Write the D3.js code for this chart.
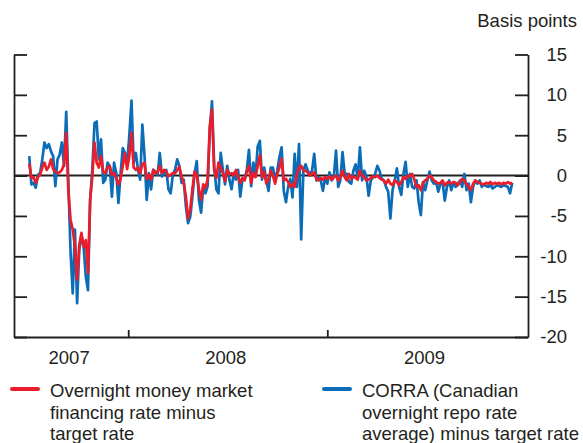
<!DOCTYPE html>
<html>
<head>
<meta charset="utf-8">
<title>Overnight rates minus target rate</title>
<script src="https://d3js.org/d3.v7.min.js"></script>
<style>
  body { margin: 0; background: #fff; }
  svg { display: block; font-family: "Liberation Sans", Arial, sans-serif; }
</style>
</head>
<body>
<div id="chart"></div>
<script>
// observations every 4 days starting here
var startDate = "2007-07-03";
var stepDays = 4;

// CORRA minus target rate (basis points)
var corra = [
  2.4,-1.1,-0.9,-1.5,0.1,0.3,2.0,4.1,3.4,3.9,3.0,2.4,-1.3,2.0,2.6,4.1,1.2,7.9,-1.0,-9.5,
  -14.6,-6.7,-15.8,-9.2,-7.5,-8.8,-12.5,-14.2,-3.0,0.7,6.5,6.7,2.0,4.5,-0.9,-0.5,1.6,1.2,-2.6,1.6,
  0.3,-3.4,0.3,3.4,2.8,1.6,4.9,9.3,1.6,2.8,0.7,-0.5,6.3,2.4,-3.0,0.3,-1.7,0.7,0.5,0.1,
  2.8,-0.1,0.3,0.7,-1.7,-2.2,0.1,0.7,2.0,1.2,-0.9,-0.5,-3.8,-5.9,-5.1,-2.6,0.3,1.8,-3.0,-4.6,
  -1.3,-2.2,-1.3,5.7,9.2,1.2,-1.7,-2.2,2.8,0.7,-1.1,1.2,-0.5,-1.7,0.3,-0.5,0.7,-2.6,-0.5,-0.5,
  0.7,3.2,-1.3,1.6,-0.1,3.6,4.3,-0.5,1.0,-0.6,-1.9,1.0,1.0,-0.6,0.6,2.3,3.5,-1.9,-3.3,-1.4,
  -0.4,-2.7,2.7,-1.4,3.9,-7.9,0.6,1.4,0.6,0.2,0.6,2.7,-0.6,-0.2,-0.6,-1.9,-0.2,-1.0,0.4,-0.6,
  -0.2,3.1,-1.4,-0.6,2.9,0.2,0.2,-0.8,-1.0,0.6,1.4,-0.4,3.5,-0.6,0.6,-0.2,-2.5,-0.6,-0.2,0.2,
  1.2,0.6,-0.4,-0.6,-1.4,-2.0,-5.3,-1.8,-0.6,0.9,-1.4,-2.4,0.2,1.7,-1.4,0.2,-1.4,-1.6,-0.6,-3.3,
  -4.9,-0.8,-1.8,-0.6,0.5,-0.6,-1.0,-0.8,-2.0,-1.0,-0.8,-3.1,-1.4,-0.6,-1.8,-0.8,-1.4,-1.0,-0.6,-1.4,
  0.2,-1.8,-1.0,-3.3,-1.4,-0.6,-1.0,-0.6,-1.4,-1.1,-1.3,-1.4,-1.2,-1.6,-1.4,-1.2,-1.3,-1.4,-1.2,-1.3,
  -1.4,-2.2,-0.9
];

// overnight money market financing rate minus target rate (basis points)
var overnight = [
  1.5,-0.3,-0.2,-0.9,-0.2,0.1,1.0,1.6,0.7,1.1,2.0,0.8,0.5,0.3,0.4,0.7,1.4,5.3,-2.0,-5.5,
  -6.7,-8.8,-12.9,-8.6,-7.1,-8.8,-8.0,-12.1,-3.0,-0.1,4.1,1.6,1.0,2.4,0.5,0.3,1.0,1.2,0.1,0.3,
  -0.3,-1.1,-0.4,1.2,2.8,0.8,2.4,5.3,1.0,0.7,1.0,0.3,1.4,1.6,-0.4,0.1,-0.5,0.7,0.3,0.4,
  1.2,0.3,0.7,0.5,-0.1,0.1,0.3,0.3,0.7,1.1,-0.1,-0.9,-2.6,-5.3,-4.2,-1.7,0.5,0.1,-1.7,-3.0,
  -1.1,-1.5,-0.5,6.1,8.2,0.7,-0.3,1.6,1.0,0.3,-0.7,0.7,0.2,0.3,0.0,0.7,-0.2,-0.9,-0.3,-0.6,
  0.5,1.2,-0.9,0.3,-0.2,1.2,2.5,-0.2,0.4,-1.0,-0.4,0.6,0.0,-1.0,0.2,1.0,2.1,-0.6,-0.4,-0.8,
  -1.4,-1.0,-1.4,0.2,1.0,1.2,0.6,0.6,0.4,0.0,0.2,0.4,-0.4,-0.6,-0.3,-0.5,-0.2,-0.4,-0.1,-0.5,
  -0.2,0.0,-0.6,-0.2,0.6,-0.2,-0.6,0.2,-0.4,-0.1,-0.3,-0.5,0.6,0.0,-0.2,-0.6,-0.5,-0.3,-0.1,-0.2,
  0.0,-0.3,-0.5,-0.6,-1.0,-0.5,-1.0,-1.2,-0.6,-0.8,-1.2,-0.8,-0.2,-0.4,0.0,-0.1,0.2,-0.5,-1.4,-1.2,
  -1.8,-0.9,-0.6,-0.4,0.0,-0.2,-0.6,-0.8,-1.0,-0.9,-0.6,-1.2,-0.9,-0.8,-1.0,-0.8,-0.9,-1.2,-0.8,-0.4,
  -0.6,-1.0,-1.4,-1.8,-1.0,-0.6,-0.8,-0.9,-1.0,-1.1,-0.9,-1.0,-0.8,-1.1,-0.9,-1.0,-0.9,-1.1,-0.9,-1.0,
  -0.8,-1.0,-0.9
];

var yTicks = [15, 10, 5, 0, -5, -10, -15, -20];
var years = ["2007", "2008", "2009"];
var legendRed = ["Overnight money market", "financing rate minus", "target rate"];
var legendBlue = ["CORRA (Canadian", "overnight repo rate", "average) minus target rate"];

var red = "#ec1c2a", blue = "#0b6db7", ink = "#231f20";
var fontSize = 18.5;

var W = 583, H = 443;
var pLeft = 14, pRight = 528, pTop = 54.5, pBottom = 337;

var parse = d3.timeParse("%Y-%m-%d");
var t0 = parse(startDate);
var dates = corra.map(function(d, i) { return d3.timeDay.offset(t0, i * stepDays); });

var x = d3.scaleTime()
  .domain([parse("2007-06-05"), parse("2010-01-05")])
  .range([pLeft, pRight]);

var y = d3.scaleLinear()
  .domain([-20, 15])
  .range([pBottom, pTop]);

var svg = d3.select("#chart").append("svg")
  .attr("width", W)
  .attr("height", H);

// zero line
svg.append("line")
  .attr("x1", pLeft).attr("x2", pRight)
  .attr("y1", y(0)).attr("y2", y(0))
  .attr("stroke", ink).attr("stroke-width", 2);

var line = function(vals) {
  return d3.line()
    .x(function(d, i) { return x(dates[i]); })
    .y(function(d) { return y(d); })(vals);
};

svg.append("path")
  .attr("d", line(corra))
  .attr("fill", "none").attr("stroke", blue)
  .attr("stroke-width", 2.7).attr("stroke-linejoin", "round");

svg.append("path")
  .attr("d", line(overnight))
  .attr("fill", "none").attr("stroke", red)
  .attr("stroke-width", 2.7).attr("stroke-linejoin", "round");

// left axis, ticks inward
var gl = svg.append("g")
  .attr("transform", "translate(" + pLeft + ",0)")
  .call(d3.axisRight(y).tickValues(yTicks).tickSize(13).tickSizeOuter(0).tickFormat(""));

// right axis, ticks inward, labels right-aligned (plain hyphen minus)
var gr = svg.append("g")
  .attr("transform", "translate(" + pRight + ",0)")
  .call(d3.axisRight(y).tickValues(yTicks).tickSize(-13).tickSizeOuter(0)
    .tickFormat(function(d) { return String(d); }));
gr.selectAll("text")
  .attr("x", 39)
  .attr("text-anchor", "end")
  .attr("font-size", fontSize)
  .attr("font-family", "Liberation Sans, Arial, sans-serif")
  .attr("fill", ink);

// bottom axis, year boundaries
var gb = svg.append("g")
  .attr("transform", "translate(0," + pBottom + ")")
  .call(d3.axisBottom(x)
    .tickValues([parse("2008-01-01"), parse("2009-01-01")])
    .tickSize(-7).tickSizeOuter(0).tickFormat(""));

[gl, gr, gb].forEach(function(g) {
  g.selectAll("path, line").attr("stroke", ink).attr("stroke-width", 1.8);
});

// year labels centred in visible part of each year
years.forEach(function(yr) {
  var a = Math.max(x(parse(yr + "-01-01")), pLeft);
  var b = Math.min(x(parse((+yr + 1) + "-01-01")), pRight);
  svg.append("text")
    .attr("x", (a + b) / 2 - 2)
    .attr("y", 364)
    .attr("text-anchor", "middle")
    .attr("font-size", fontSize)
    .attr("fill", ink)
    .text(yr);
});

svg.append("text")
  .attr("x", 577).attr("y", 27)
  .attr("text-anchor", "end")
  .attr("font-size", fontSize)
  .attr("fill", ink)
  .text("Basis points");

// legend
function legend(x0, color, lines) {
  svg.append("line")
    .attr("x1", x0).attr("x2", x0 + 26)
    .attr("y1", 389).attr("y2", 389)
    .attr("stroke", color).attr("stroke-width", 4)
    .attr("stroke-linecap", "round");
  lines.forEach(function(s, i) {
    svg.append("text")
      .attr("x", x0 + 38)
      .attr("y", 397 + i * 21.5)
      .attr("font-size", fontSize)
      .attr("fill", ink)
      .text(s);
  });
}
legend(12, red, legendRed);
legend(324, blue, legendBlue);
</script>
</body>
</html>
